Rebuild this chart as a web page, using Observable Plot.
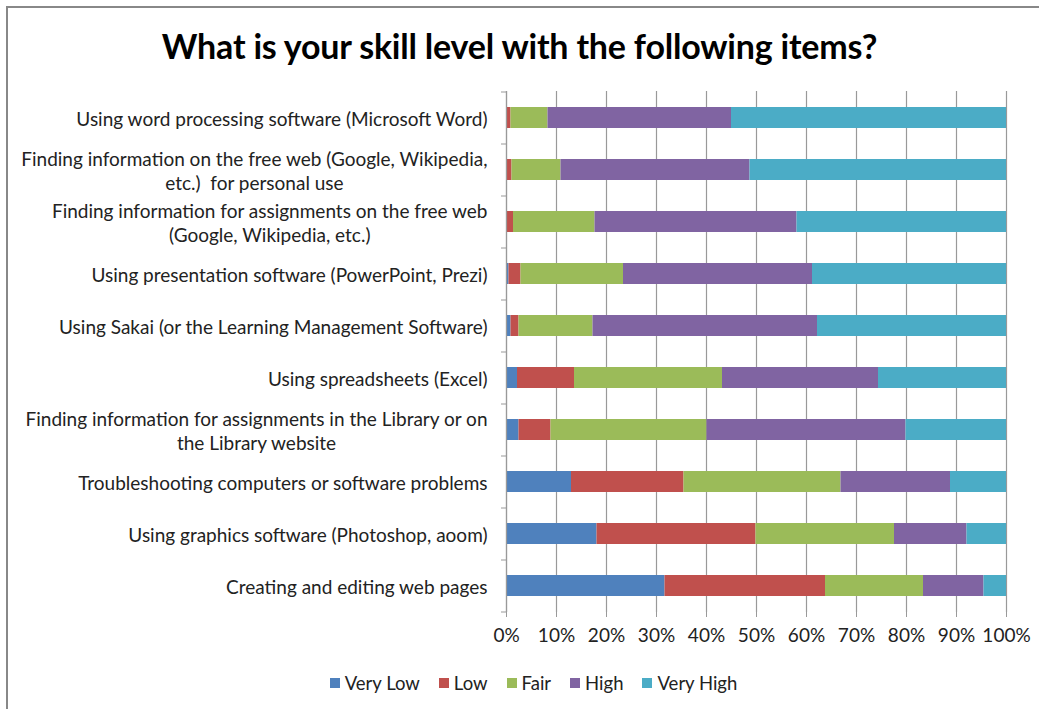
<!DOCTYPE html>
<html>
<head>
<meta charset="utf-8">
<script src="https://cdn.jsdelivr.net/npm/d3@7"></script>
<script src="https://cdn.jsdelivr.net/npm/@observablehq/plot@0.6"></script>
<style>
  html, body { margin: 0; padding: 0; background: #fff; }
  #wrap { position: relative; width: 1039px; height: 709px; overflow: hidden; font-family: Lato, "Open Sans", sans-serif; }
  #frame { position: absolute; left: 6px; top: 6px; width: 1100px; height: 800px; border-left: 2px solid #888; border-top: 2px solid #888; }
  #title { position: absolute; left: 0; width: 1039px; top: 24px; text-align: center; font-size: 34px; font-weight: bold; color: #000; letter-spacing: -0.2px; line-height: 44px; }
  #chart { position: absolute; left: 0; top: 80px; }
  #legend { position: absolute; left: 0; width: 1067px; top: 671px; display: flex; justify-content: center; gap: 19px; font-size: 18.5px; color: #222; line-height: 24px; }
  .item { display: flex; align-items: center; gap: 5px; }
  .sw { width: 10px; height: 10px; display: inline-block; }
</style>
</head>
<body>
<div id="wrap">
  <div id="frame"></div>
  <div id="title">What is your skill level with the following items?</div>
  <div id="chart"></div>
  <div id="legend"></div>
</div>
<script>
const categories = [
  "Using word processing software (Microsoft Word)",
  "Finding information on the free web (Google, Wikipedia,\netc.)  for personal use",
  "Finding information for assignments on the free web\n(Google, Wikipedia, etc.)",
  "Using presentation software (PowerPoint, Prezi)",
  "Using Sakai (or the Learning Management Software)",
  "Using spreadsheets (Excel)",
  "Finding information for assignments in the Library or on\nthe Library website",
  "Troubleshooting computers or software problems",
  "Using graphics software (Photoshop, aoom)",
  "Creating and editing web pages"
];
const levels = ["Very Low", "Low", "Fair", "High", "Very High"];
const colors = ["#4F81BD", "#C0504D", "#9BBB59", "#8064A2", "#4BACC6"];
const veryLow  = [0.0, 0.0, 0.0, 0.5, 0.9, 2.2, 2.5, 13.0, 18.1, 31.7];
const low      = [0.9, 1.1, 1.4, 2.4, 1.6, 11.4, 6.4, 22.5, 31.8, 32.1];
const fair     = [7.4, 9.8, 16.3, 20.5, 14.8, 29.6, 31.2, 31.4, 27.7, 19.6];
const high     = [36.7, 37.8, 40.4, 37.8, 44.9, 31.2, 39.8, 21.9, 14.5, 12.1];
const veryHigh = [55.0, 51.3, 41.9, 38.8, 37.8, 25.6, 20.1, 11.2, 7.9, 4.5];
const xTicks = [0, 10, 20, 30, 40, 50, 60, 70, 80, 90, 100];

const series = [veryLow, low, fair, high, veryHigh];
const data = [];
categories.forEach((c, i) => {
  levels.forEach((l, j) => data.push({category: c, level: l, value: series[j][i]}));
});

const chart = Plot.plot({
  width: 1039,
  height: 580,
  marginTop: 11,
  marginBottom: 48,
  marginLeft: 506,
  marginRight: 33,
  style: { fontFamily: "Lato, 'Open Sans', sans-serif", fontSize: "19px", color: "#222", background: "transparent" },
  x: { domain: [0, 100] },
  y: { domain: categories, paddingInner: 0.6, paddingOuter: 0.3 },
  color: { domain: levels, range: colors },
  marks: [
    Plot.gridX(xTicks, { stroke: "#999", strokeOpacity: 1, strokeWidth: 1.2 }),
    Plot.barX(data, { x: "value", y: "category", fill: "level", order: levels }),
    Plot.ruleX([0], { stroke: "#999", strokeWidth: 1.2 }),
    Plot.ruleY(categories, { y: d => d, x1: -1, x2: 0, dy: -26, stroke: "#999" }),
    Plot.ruleY(categories.slice(-1), { y: d => d, x1: -1, x2: 0, dy: 26, stroke: "#999" }),
    Plot.axisX(xTicks, { anchor: "bottom", tickFormat: d => d + "%", tickSize: 5, tickPadding: 11, stroke: "#999", label: null, fontSize: 19 }),
    Plot.ruleY([0], { frameAnchor: "bottom", stroke: "#999", strokeWidth: 1.2 }),
    Plot.axisY({ anchor: "left", tickSize: 0, tickPadding: 19, label: null, lineHeight: 1.26, fontSize: 19 })
  ]
});
document.getElementById("chart").appendChild(chart);

// center wrapped label lines within their right-aligned block
chart.querySelectorAll("g[aria-label='y-axis tick label'] text").forEach(t => {
  const spans = t.querySelectorAll("tspan");
  if (spans.length > 1) {
    let w = 0;
    spans.forEach(s => { w = Math.max(w, s.getComputedTextLength()); });
    spans.forEach(s => { s.setAttribute("text-anchor", "middle"); s.setAttribute("x", -w / 2); });
  }
});

const legend = document.getElementById("legend");
levels.forEach((l, i) => {
  const it = document.createElement("div");
  it.className = "item";
  const sw = document.createElement("span");
  sw.className = "sw";
  sw.style.background = colors[i];
  const tx = document.createElement("span");
  tx.textContent = l;
  it.appendChild(sw); it.appendChild(tx);
  legend.appendChild(it);
});
</script>
</body>
</html>
